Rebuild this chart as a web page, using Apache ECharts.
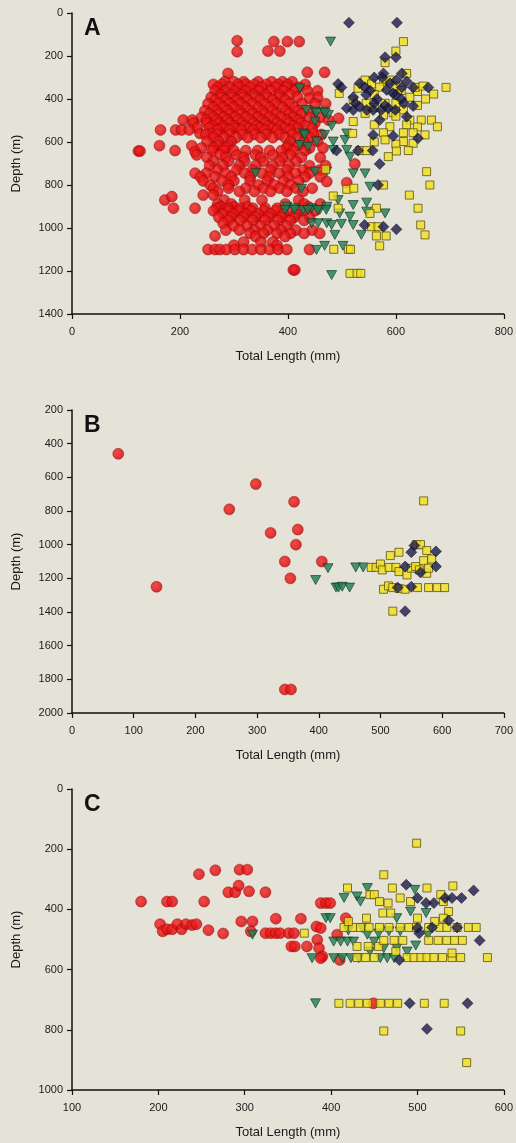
<!DOCTYPE html>
<html>
<head>
<meta charset="utf-8">
<script src="https://cdn.jsdelivr.net/npm/echarts@6/dist/echarts.min.js"></script>
<style>
  html, body { margin: 0; padding: 0; background: #e5e2d7; }
  #chart { width: 516px; height: 1143px; }
</style>
</head>
<body>
<div id="chart"></div>
<script>
// [total length (mm), depth (m)] per panel and group

// panel A
const redA = [
  [306,129],[374,133],[399,133],[421,133],
  [306,180],[363,177],[385,177],
  [289,281],[436,276],[468,276],
  [283,320],[300,320],[318,320],[345,320],[370,320],[390,320],[408,320],
  [262,332],[278,332],[308,332],[322,332],[338,332],[360,332],[382,332],[400,332],[432,332],
  [270,345],[292,345],[310,345],[330,345],[352,345],[378,345],[398,345],[420,345],
  [265,362],[284,362],[302,362],[322,362],[346,362],[368,362],[392,362],[414,362],[436,362],[455,362],
  [276,380],[296,380],[316,380],[338,380],[360,380],[384,380],[404,380],
  [258,392],[276,392],[296,392],[318,392],[340,392],[362,392],[384,392],[418,392],[455,392],
  [265,405],[285,405],[305,405],[325,405],[348,405],[372,405],[395,405],[440,397],
  [252,422],[272,422],[292,422],[312,422],[334,422],[356,422],[378,422],[402,422],[426,422],[450,422],[470,422],
  [262,440],[280,440],[300,440],[322,440],[344,440],[366,440],[390,440],[412,440],
  [246,455],[268,455],[288,455],[310,455],[330,455],[352,455],[372,455],[396,455],[418,455],[440,455],
  [255,470],[272,470],[292,470],[312,470],[334,470],[356,470],[378,470],[402,470],[425,470],
  [240,485],[262,485],[282,485],[302,485],[322,485],[344,485],[366,485],[388,485],[410,485],[440,485],[460,485],
  [206,498],[223,498],[249,498],[268,498],[288,498],[308,498],[330,498],[352,498],[374,498],[398,498],[420,498],[475,498],[494,490],
  [225,512],[250,512],[272,512],[292,512],[314,512],[336,512],[358,512],[380,512],[402,512],[424,512],[450,512],
  [260,525],[280,525],[300,525],[320,525],[342,525],[364,525],[386,525],[410,525],[432,525],
  [232,535],[255,535],[280,535],[302,535],[326,535],[348,535],[370,535],[394,535],[418,535],[445,535],
  [164,544],[192,544],[203,544],[217,544],[270,544],[292,544],[314,544],[336,544],[358,544],[380,544],[404,544],
  [237,560],[258,560],[448,560],
  [248,565],[270,565],[292,565],[316,565],[338,565],[360,565],[384,565],[408,565],[430,565],[462,565],
  [262,580],[282,580],[304,580],[326,580],[350,580],[372,580],[395,580],[418,580],[440,580],
  [250,598],[272,598],[295,598],[405,598],[430,598],[455,598],
  [162,617],[222,617],[270,617],[290,617],[400,617],[420,617],
  [240,628],[262,628],[285,628],[398,628],[440,628],[465,628],
  [123,642],[126,642],[191,640],[228,645],[260,640],[282,640],[300,640],[322,640],[344,640],[366,640],[388,640],[410,640],[432,640],
  [231,660],[275,660],[305,660],[340,660],[372,660],[405,660],
  [250,672],[285,672],[318,672],[350,672],[390,672],[425,672],[460,672],
  [262,690],[290,690],[320,690],[355,690],[385,690],[415,690],
  [524,702],
  [255,710],[280,710],[310,710],[340,710],[372,710],[402,710],[440,710],[470,710],
  [459,730],[270,730],[305,730],[335,730],[368,730],[398,730],[428,730],
  [228,745],[249,745],[285,745],[320,745],[352,745],[384,745],[414,745],[440,745],
  [238,762],[265,762],[295,762],[330,762],[365,762],[400,762],[432,762],[460,762],
  [243,781],[278,781],[300,781],[330,781],[362,781],[392,781],[420,781],[472,784],[509,789],
  [256,800],[290,800],[345,800],[375,800],[405,800],
  [262,815],[290,815],[322,815],[355,815],[385,815],[415,815],[445,815],
  [270,830],[310,830],[338,830],[368,830],[398,830],[428,830],
  [243,847],[262,847],
  [172,870],[185,854],[282,870],[320,870],[352,870],[420,870],
  [270,888],[295,888],[395,888],[430,888],[460,888],
  [438,901],[275,901],[300,901],[325,901],
  [188,908],[228,908],[268,908],[290,908],[312,908],[335,908],[358,908],[380,908],
  [262,920],[290,920],[310,920],[332,920],[356,920],[378,920],[402,920],[428,920],[450,920],
  [280,935],[300,935],[322,935],[345,935],[368,935],[392,935],[415,935],
  [272,950],[295,950],[318,950],[340,950],[364,950],[388,950],[412,950],[440,950],
  [290,965],[312,965],[335,965],[358,965],[382,965],[405,965],[430,965],
  [280,978],[300,990],[325,990],[350,990],[375,990],[398,990],
  [285,1010],[310,1010],[338,1010],[362,1010],[388,1010],[415,1010],[445,1010],
  [459,1025],[330,1025],[355,1025],[380,1025],[405,1025],[430,1025],
  [265,1037],[340,1040],[395,1040],
  [318,1065],[350,1065],[372,1065],[300,1080],[380,1080],
  [252,1100],[265,1100],[274,1100],[286,1100],[302,1100],[318,1100],[334,1100],[350,1100],[366,1100],[382,1100],[398,1100],[440,1100],
  [410,1195],[413,1195]
];
const greenA = [
  [479,133],[422,350],[434,451],[450,459],[466,459],[475,474],[453,465],[469,465],
  [450,505],[481,525],[428,560],[468,567],[431,567],[453,598],[484,598],[509,560],[506,591],
  [422,614],[437,622],[484,637],[509,637],[515,668],
  [340,745],[450,738],[521,746],[543,746],[472,738],[425,818],[552,808],
  [493,870],[521,893],[546,882],
  [398,901],[413,908],[428,916],[444,908],[459,916],[472,901],[395,916],[412,916],[437,916],[455,916],[471,916],
  [496,932],[515,947],[546,924],[580,932],
  [444,978],[456,978],[472,978],[481,986],[499,981],[521,986],[487,1032],[536,1032],
  [453,1102],[468,1083],[502,1083],[481,1219]
];
const yellowA = [
  [614,133],[600,177],[580,231],[620,281],[577,319],[589,312],[543,312],[495,374],
  [555,330],[570,345],[600,340],[640,365],[655,400],
  [636,346],[650,340],[670,377],[693,346],[626,392],[521,405],[530,350],[610,360],[560,380],
  [580,420],[545,420],[560,440],
  [543,467],[577,474],[595,464],[614,451],[600,420],[640,430],
  [521,505],[589,529],[626,498],[647,498],[666,498],[677,529],[600,480],[560,520],
  [620,520],[640,530],[520,560],
  [614,557],[632,557],[654,567],[577,557],[614,598],[632,606],[580,590],[600,610],[560,600],
  [586,668],[601,642],[623,640],[533,640],[546,640],
  [470,727],[657,738],[663,800],[484,851],[509,820],[522,815],[577,800],[625,847],
  [493,908],[564,908],[552,932],[641,908],
  [555,994],[567,994],[564,1037],[582,1037],[570,1083],[646,986],[654,1032],
  [485,1099],[512,1099],[516,1099],[515,1211],[528,1211],[535,1211]
];
const navyA = [
  [513,45],[602,45],[580,206],[600,206],[577,281],[611,281],
  [493,330],[499,346],[521,392],[533,327],[543,346],[552,361],[560,300],[575,300],
  [589,327],[601,312],[611,346],[620,319],[632,346],[595,374],[583,358],[660,346],
  [545,380],[565,400],[610,400],[600,380],[525,420],[580,430],[615,420],[560,420],
  [509,443],[521,451],[533,436],[546,451],[558,451],[573,451],[586,443],[599,451],
  [620,482],[632,433],[570,498],[558,567],[595,572],[641,583],
  [490,640],[530,640],[557,640],[570,702],[567,800],
  [542,986],[577,994],[601,1006]
];

// panel B
const redB = [
  [75,460],[137,1250],[255,790],[298,640],[360,745],[322,930],[366,910],
  [363,1000],[345,1100],[405,1100],[354,1200],[345,1860],[355,1860]
];
const greenB = [
  [415,1140],[395,1210],[428,1255],[432,1255],[438,1250],[450,1255],[460,1135],[472,1135]
];
const yellowB = [
  [570,740],[558,1000],[565,1000],[530,1045],[516,1065],[575,1035],[570,1095],[583,1085],
  [485,1135],[493,1135],[500,1115],[503,1150],[514,1135],[525,1135],[530,1160],[543,1180],
  [550,1140],[557,1130],[563,1150],[575,1170],[578,1140],
  [505,1265],[513,1245],[520,1255],[530,1260],[540,1265],[560,1255],[578,1255],[592,1255],[604,1255],
  [520,1395]
];
const navyB = [
  [555,1005],[550,1045],[590,1040],[540,1130],[565,1165],[590,1130],[528,1255],[550,1250],[540,1395]
];

// panel C
const redC = [
  [180,374],[210,374],[216,374],[202,449],[205,473],[210,466],[216,466],[222,449],[227,466],
  [232,449],[239,452],[244,449],[247,283],[253,374],[258,469],[266,270],[275,480],
  [281,343],[289,343],[293,321],[294,268],[303,268],[296,440],[305,340],[309,440],[307,473],
  [324,343],[324,479],[330,479],[336,479],[341,479],[336,431],[351,479],[357,479],
  [354,523],[358,523],[365,431],[372,523],[388,379],[394,379],[399,379],
  [383,457],[388,462],[384,501],[386,529],[390,556],[388,562],[407,484],[417,429],[410,568],
  [449,712]
];
const greenC = [
  [309,484],[382,712],[378,562],[394,429],[399,429],[415,362],[430,357],[434,374],[442,329],
  [403,507],[411,507],[419,507],[426,507],[403,562],[413,562],[423,562],[432,562],
  [436,462],[442,484],[450,507],[457,562],[465,562],[473,562],[461,529],[476,529],
  [476,429],[492,407],[497,335],[510,412],[512,484],[467,473],[480,473],[445,540],
  [455,480],[420,470],[488,540],[498,520]
];
const yellowC = [
  [499,180],[461,285],[419,329],[471,329],[511,329],[541,322],[445,351],[450,351],
  [456,374],[466,379],[480,362],[492,374],[530,374],[536,407],[460,412],[469,412],[441,429],
  [415,460],[425,460],[434,460],[444,460],[456,460],[467,460],[480,460],[490,460],[499,460],
  [513,460],[526,460],[534,460],[546,460],[559,460],[568,460],[369,479],
  [430,523],[443,523],[455,523],[461,503],[473,503],[483,503],[513,503],[524,503],[534,503],
  [543,503],[552,503],[430,560],[440,560],[450,560],[488,560],[496,560],[504,560],[511,560],
  [519,560],[529,560],[540,560],[550,560],[581,560],
  [409,712],[422,712],[432,712],[442,712],[457,712],[467,712],[477,712],[508,712],[531,712],
  [461,804],[550,804],[557,909],[527,351],[530,429],[500,429],[520,440],[475,540],[540,545],[420,440]
];
const navyC = [
  [487,318],[565,337],[500,362],[510,379],[519,379],[532,362],[540,362],[551,362],[536,437],
  [500,462],[502,479],[517,460],[546,460],[572,503],[479,568],[491,712],[558,712],[511,797]
];

// axis settings per panel: [min, max, interval]
const xRanges = [[0, 800, 200], [0, 700, 100], [100, 600, 100]];
const yRanges = [[0, 1400, 200], [200, 2000, 200], [0, 1000, 200]];
const panelLetters = ['A', 'B', 'C'];

const FONT = '"Liberation Sans", Arial, sans-serif';

const grids = [
  { left: 72, top: 13, width: 432, height: 301 },
  { left: 72, top: 410, width: 432, height: 303 },
  { left: 72, top: 789, width: 432, height: 301 }
];

// marker styles
const redStyle = {
  color: {
    type: 'radial', x: 0.4, y: 0.4, r: 0.7,
    colorStops: [{ offset: 0, color: '#f7221c' }, { offset: 1, color: '#c8000a' }]
  },
  borderColor: '#8a0000', borderWidth: 0.5
};
const greenStyle = { color: '#1f7d52', borderColor: '#0c3521', borderWidth: 0.8 };
const yellowStyle = { color: '#f1e11c', borderColor: '#5c5210', borderWidth: 1 };
const navyStyle = { color: '#1b1a48', borderColor: '#08081c', borderWidth: 0.6 };

function makeSeries(idx, red, green, yellow, navy) {
  return [
    { type: 'scatter', xAxisIndex: idx, yAxisIndex: idx, data: red, symbol: 'circle', symbolSize: 11, itemStyle: redStyle },
    { type: 'scatter', xAxisIndex: idx, yAxisIndex: idx, data: green, symbol: 'triangle', symbolRotate: 180, symbolSize: [10, 9], itemStyle: greenStyle },
    { type: 'scatter', xAxisIndex: idx, yAxisIndex: idx, data: yellow, symbol: 'rect', symbolSize: 8, itemStyle: yellowStyle },
    { type: 'scatter', xAxisIndex: idx, yAxisIndex: idx, data: navy, symbol: 'diamond', symbolSize: [11, 11], itemStyle: navyStyle }
  ];
}

const axisLine = { show: true, onZero: false, lineStyle: { color: '#111', width: 1.5 } };
const axisTick = { show: true, inside: false, length: 5, lineStyle: { color: '#111', width: 1.2 } };

const chart = echarts.init(document.getElementById('chart'));

chart.setOption({
  backgroundColor: '#e5e2d7',
  animation: false,
  grid: grids,
  xAxis: xRanges.map((r, i) => ({
    type: 'value', gridIndex: i, position: 'bottom',
    min: r[0], max: r[1], interval: r[2],
    name: 'Total Length (mm)', nameLocation: 'middle', nameGap: 36,
    nameTextStyle: { fontFamily: FONT, fontSize: 13, color: '#1a1a1a' },
    axisLine: axisLine, axisTick: axisTick, splitLine: { show: false },
    axisLabel: { fontFamily: FONT, fontSize: 11, color: '#1a1a1a', margin: 12, formatter: v => String(v) }
  })),
  yAxis: yRanges.map((r, i) => ({
    type: 'value', gridIndex: i, inverse: true,
    min: r[0], max: r[1], interval: r[2],
    name: 'Depth (m)', nameLocation: 'middle', nameGap: 49,
    nameTextStyle: { fontFamily: FONT, fontSize: 13, color: '#1a1a1a' },
    axisLine: axisLine, axisTick: axisTick, splitLine: { show: false },
    axisLabel: { fontFamily: FONT, fontSize: 11, color: '#1a1a1a', margin: 9, formatter: v => String(v) }
  })),
  graphic: panelLetters.map((t, i) => ({
    type: 'text', left: 84, top: grids[i].top + 4,
    style: { text: t, font: 'bold 23px ' + FONT, fill: '#111' }
  })),
  series: [].concat(
    makeSeries(0, redA, greenA, yellowA, navyA),
    makeSeries(1, redB, greenB, yellowB, navyB),
    makeSeries(2, redC, greenC, yellowC, navyC)
  )
});
</script>
</body>
</html>
